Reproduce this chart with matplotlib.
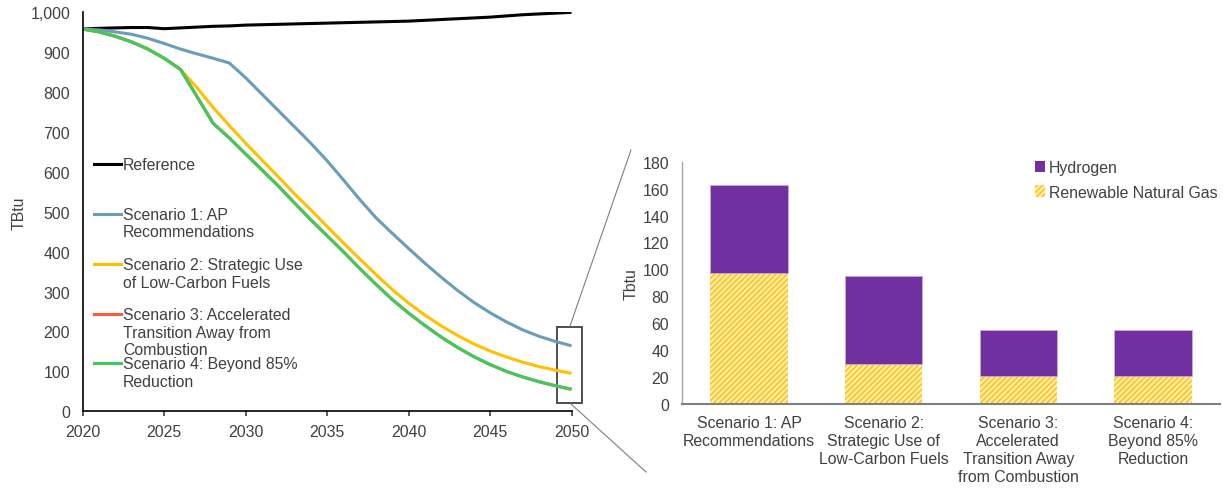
import numpy as np
import matplotlib.pyplot as plt
from matplotlib.patches import Rectangle, Patch
from matplotlib.lines import Line2D

plt.rcParams['font.family'] = ['Liberation Sans', 'DejaVu Sans']
plt.rcParams['font.size'] = 11.4
plt.rcParams['text.color'] = '#404040'
plt.rcParams['axes.labelcolor'] = '#404040'
plt.rcParams['xtick.color'] = '#404040'
plt.rcParams['ytick.color'] = '#404040'
plt.rcParams['hatch.linewidth'] = 1.0

# left chart data (TBtu)
years = list(range(2020, 2051))
reference = [958, 960, 961, 962, 962, 959, 961, 963, 965, 966, 968, 969, 970, 971, 972, 973,
             974, 975, 976, 977, 978, 980, 982, 984, 986, 988, 991, 994, 996, 998, 1000]
scen1 = [958, 956, 951, 945, 935, 922, 908, 896, 885, 873, 836, 795, 754, 713, 672, 628,
         580, 531, 485, 446, 408, 371, 336, 303, 273, 247, 224, 204, 188, 175, 164]
scen2 = [958, 951, 940, 926, 908, 885, 857, 812, 762, 716, 672, 630, 588, 545, 505, 463,
         422, 382, 343, 305, 271, 241, 214, 190, 169, 151, 136, 123, 112, 103, 95]
scen3 = [958, 951, 940, 926, 908, 885, 857, 790, 722, 685, 645, 605, 565, 522, 480, 440,
         400, 358, 318, 280, 246, 215, 186, 160, 137, 117, 100, 86, 74, 64, 55]
scen4 = [958, 951, 940, 926, 908, 885, 857, 790, 722, 685, 645, 605, 565, 522, 480, 440,
         400, 358, 318, 280, 246, 215, 186, 160, 137, 117, 100, 86, 74, 64, 55]

line_labels = ["Reference",
               "Scenario 1: AP\nRecommendations",
               "Scenario 2: Strategic Use\nof Low-Carbon Fuels",
               "Scenario 3: Accelerated\nTransition Away from\nCombustion",
               "Scenario 4: Beyond 85%\nReduction"]
line_colors = ["#000000", "#6A9DB8", "#FFC000", "#FF5A3C", "#3DCB5F"]

# right chart data (Tbtu)
bar_labels = ["Scenario 1: AP\nRecommendations",
              "Scenario 2:\nStrategic Use of\nLow-Carbon Fuels",
              "Scenario 3:\nAccelerated\nTransition Away\nfrom Combustion",
              "Scenario 4:\nBeyond 85%\nReduction"]
rng = [97, 30, 21, 21]
hydrogen = [65.5, 65, 34, 34]

fig = plt.figure(figsize=(12.23, 4.89), dpi=100)

# ---- line chart
ax = fig.add_axes([0.0676, 0.157, 0.3997, 0.8157])
series = [reference, scen1, scen2, scen3, scen4]
for vals, c in zip(series, line_colors):
    ax.plot(years, vals, color=c, lw=2.2, solid_capstyle='butt', solid_joinstyle='round')
ax.set_xlim(2020, 2050)
ax.set_ylim(0, 1000)
ax.set_xticks(range(2020, 2051, 5))
ax.set_yticks(range(0, 1001, 100))
ax.yaxis.set_major_formatter(plt.FuncFormatter(lambda v, p: f"{int(v):,}"))
ax.tick_params(axis='y', length=0, pad=9)
ax.tick_params(axis='x', length=3.5, width=1.2, direction='out', pad=6)
for s in ['top', 'right']:
    ax.spines[s].set_visible(False)
for s in ['left', 'bottom']:
    ax.spines[s].set_color('black')
    ax.spines[s].set_linewidth(1.2)
ax.set_ylabel("TBtu", labelpad=3)

# manual legend (handle sits by the first line of each label)
leg_y = [0.619, 0.494, 0.368, 0.243, 0.120]
for lab, c, yy in zip(line_labels, line_colors, leg_y):
    ax.add_line(Line2D([0.0225, 0.0775], [yy, yy], transform=ax.transAxes, color=c, lw=2.2))
    ax.text(0.082, yy + 0.019, lab, transform=ax.transAxes, va='top', ha='left',
            linespacing=1.24)

# zoom box around 2050
ax.add_patch(Rectangle((2049.1, 20.5), 1.57, 189.5, fill=False, ec='#404040', lw=1.3, clip_on=False))
fig.add_artist(Line2D([570 / 1223, 631 / 1223], [1 - 327 / 489, 1 - 151 / 489], color='#7F7F7F', lw=0.8))
fig.add_artist(Line2D([571 / 1223, 646 / 1223], [1 - 405 / 489, 1 - 473 / 489], color='#7F7F7F', lw=0.8))

# ---- bar chart
bx = fig.add_axes([0.5574, 0.1718, 0.4403, 0.4955])
x = np.arange(len(bar_labels))
bx.bar(x, rng, width=0.575, color='#FFEBAA', edgecolor='#FFC000', lw=0, hatch='//////',
       label='Renewable Natural Gas')
bx.bar(x, hydrogen, width=0.575, bottom=rng, color='#7030A0', edgecolor='#C9A8E0', lw=0.6,
       label='Hydrogen')
bx.set_xlim(-0.5, 3.5)
bx.set_ylim(0, 180)
bx.set_yticks(range(0, 181, 20))
bx.set_xticks(x)
bx.set_xticklabels(bar_labels, linespacing=1.24)
bx.tick_params(axis='y', length=0, pad=9)
bx.tick_params(axis='x', length=0, pad=8)
for s in ['top', 'right']:
    bx.spines[s].set_visible(False)
bx.spines['left'].set_color('#A6A6A6')
bx.spines['left'].set_linewidth(1.0)
bx.spines['bottom'].set_color('#7F7F7F')
bx.spines['bottom'].set_linewidth(1.5)
bx.set_ylabel("Tbtu", labelpad=3)

handles = [Patch(facecolor='#7030A0', edgecolor='#7030A0', lw=0),
           Patch(facecolor='#FFEBAA', edgecolor='#FFC000', lw=0, hatch='//////')]
bx.legend(handles, ['Hydrogen', 'Renewable Natural Gas'], loc='upper left',
          bbox_to_anchor=(1035 / 1223, 1 - 161 / 489), bbox_transform=fig.transFigure,
          frameon=False, handlelength=0.6, handleheight=0.75, handletextpad=0.3,
          labelspacing=0.62, borderpad=0, borderaxespad=0)

fig.savefig("out.png", dpi=100)
